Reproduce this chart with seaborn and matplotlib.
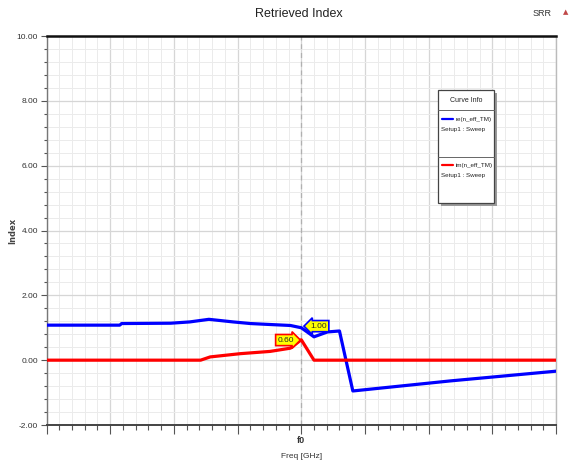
#%% MODULE BEGINS
module_name = 'retrieved_index'
'''
Description:
Retrieved index (re / im of n_eff_TM) vs frequency around f0, HFSS style.
'''

#%% IMPORTS ~~~~~~~~~~~~~~~~~~~~~~~~~~~~~~~~~~~~~~~~~~~~
import matplotlib
matplotlib.use("Agg")
import matplotlib.pyplot as plt
from matplotlib.patches import Rectangle
from matplotlib.lines import Line2D
from matplotlib.ticker import MultipleLocator, FixedLocator
import seaborn as sns

#%% DATA ~~~~~~~~~~~~~~~~~~~~~~~~~~~~~~~~~~~~~~~~~~~~
# frequency offset from f0 (arbitrary units, axis has only the f0 label)
freq_re = [-4.0, -2.85, -2.82, -2.05, -1.75, -1.45, -1.07, -0.80, -0.49,
           -0.17, 0.0, 0.20, 0.41, 0.60, 0.81, 2.34, 4.0]
re_n = [1.08, 1.08, 1.13, 1.14, 1.18, 1.26, 1.18, 1.13, 1.10,
        1.07, 1.00, 0.72, 0.87, 0.90, -0.95, -0.64, -0.34]

freq_im = [-4.0, -1.58, -1.43, -0.96, -0.49, -0.17, 0.0, 0.20, 4.0]
im_n = [0.0, 0.0, 0.10, 0.20, 0.27, 0.37, 0.63, 0.0, 0.0]

y_ticks = [-2, 0, 2, 4, 6, 8, 10]
y_labels = ["-2.00", "0.00", "2.00", "4.00", "6.00", "8.00", "10.00"]

marker_re = (0.0, 1.00, "1.00")
marker_im = (0.0, 0.60, "0.60")

#%% STYLE ~~~~~~~~~~~~~~~~~~~~~~~~~~~~~~~~~~~~~~~~~~~~
sns.set_theme(style="white")
plt.rcParams['font.family'] = ['Liberation Sans', 'DejaVu Sans']

W, H = 583, 475


def fx(px):
    return px / W


def fy(py):
    return 1 - py / H


#%% FIGURE ~~~~~~~~~~~~~~~~~~~~~~~~~~~~~~~~~~~~~~~~~~~~
fig = plt.figure(figsize=(W / 100, H / 100), dpi=100)
ax = fig.add_axes([fx(46.5), fy(425), fx(556) - fx(46.5), fy(36) - fy(425)])

ax.set_xlim(-4, 4)
ax.set_ylim(-2, 10)

# grid
ax.xaxis.set_major_locator(MultipleLocator(1))
ax.xaxis.set_minor_locator(MultipleLocator(0.2))
ax.yaxis.set_major_locator(FixedLocator(y_ticks))
ax.yaxis.set_minor_locator(MultipleLocator(0.4))
ax.grid(which='major', color='#d6d6d6', lw=0.9)
ax.grid(which='minor', color='#ebebeb', lw=0.7)
ax.set_axisbelow(True)

ax.axvline(0, color='#b0b0b0', lw=0.9, ls=(0, (4, 3)), zorder=1)

# curves
sns.lineplot(x=freq_re, y=re_n, color='#0000ff', lw=2.3, sort=False, ax=ax, zorder=3)
sns.lineplot(x=freq_im, y=im_n, color='#ff0000', lw=2.3, sort=False, ax=ax, zorder=3)

# ticks
ax.set_yticks(y_ticks)
ax.set_yticklabels(y_labels)
ax.tick_params(axis='y', which='major', left=True, length=4, width=0.8,
               color='#555555', labelsize=6, labelcolor='#333333', pad=2)
ax.tick_params(axis='y', which='minor', left=True, length=2, width=0.8, color='#555555')

xt = ax.get_xticks()
ax.set_xticklabels(["f0" if abs(v) < 1e-9 else "" for v in xt])
ax.tick_params(axis='x', which='major', bottom=True, length=6.5, width=0.8,
               color='#555555', labelsize=6.5, labelcolor='#333333', pad=1.5)
ax.tick_params(axis='x', which='minor', bottom=True, length=3.5, width=0.8, color='#555555')
for lab in ax.get_xticklabels():
    lab.set_fontweight('bold')

# spines
ax.spines['top'].set_color('#111111')
ax.spines['top'].set_linewidth(1.8)
ax.spines['bottom'].set_color('#444444')
ax.spines['bottom'].set_linewidth(1.4)
ax.spines['left'].set_color('#777777')
ax.spines['left'].set_linewidth(1.0)
ax.spines['right'].set_color('#bbbbbb')
ax.spines['right'].set_linewidth(1.0)

ax.set_xlabel("Freq [GHz]", fontsize=6, color='#333333', labelpad=6)
ax.set_ylabel("Index", fontsize=6, fontweight='bold', color='#444444',
              family=['DejaVu Sans'])
ax.yaxis.set_label_coords(-0.058, 0.5)

# marker tags
ax.text(marker_re[0] + 0.27, marker_re[1] + 0.05, marker_re[2], fontsize=6,
        ha='center', va='center', zorder=5,
        bbox=dict(boxstyle='larrow,pad=0.25', fc='#ffff00', ec='#0000ff', lw=1.2))
ax.text(marker_im[0] - 0.24, marker_im[1] + 0.02, marker_im[2], fontsize=6,
        ha='center', va='center', zorder=5,
        bbox=dict(boxstyle='rarrow,pad=0.25', fc='#ffff00', ec='#ff0000', lw=1.2))

# title and project name
fig.text(fx(299), fy(14), "Retrieved Index", fontsize=9, ha='center', va='center', color='#222222')
fig.text(fx(542), fy(14), "SRR", fontsize=6.5, ha='center', va='center', color='#333333')
fig.text(fx(566), fy(12), "\u25b2", fontsize=5, ha='center', va='center', color='#c04848',
         family=['DejaVu Sans'])

# curve info box
fig.patches.append(Rectangle((fx(441), fy(206)), fx(56), fy(93) - fy(206),
                             transform=fig.transFigure, fc='#9a9a9a', ec='none', zorder=4))
fig.patches.append(Rectangle((fx(438), fy(203)), fx(56), fy(90) - fy(203),
                             transform=fig.transFigure, fc='white', ec='#444444', lw=0.9, zorder=5))
fig.lines.append(Line2D([fx(438), fx(494)], [fy(110), fy(110)], transform=fig.transFigure,
                        color='#666666', lw=0.7, zorder=6))
fig.lines.append(Line2D([fx(438), fx(494)], [fy(157), fy(157)], transform=fig.transFigure,
                        color='#666666', lw=0.7, zorder=6))
fig.text(fx(466), fy(100.5), "Curve Info", fontsize=5, ha='center', va='center', color='#222222', zorder=7)

entries = [("re(n_eff_TM)", '#0000ff', 119), ("im(n_eff_TM)", '#ff0000', 165)]
for name, col, ypx in entries:
    fig.lines.append(Line2D([fx(442), fx(453)], [fy(ypx), fy(ypx)], transform=fig.transFigure,
                            color=col, lw=1.6, zorder=7))
    fig.text(fx(456), fy(ypx), name, fontsize=4.5, ha='left', va='center', color='#222222', zorder=7)
    fig.text(fx(441), fy(ypx + 10), "Setup1 : Sweep", fontsize=4.5, ha='left', va='center',
             color='#222222', zorder=7)

fig.savefig("out.png", dpi=100, facecolor='white')
